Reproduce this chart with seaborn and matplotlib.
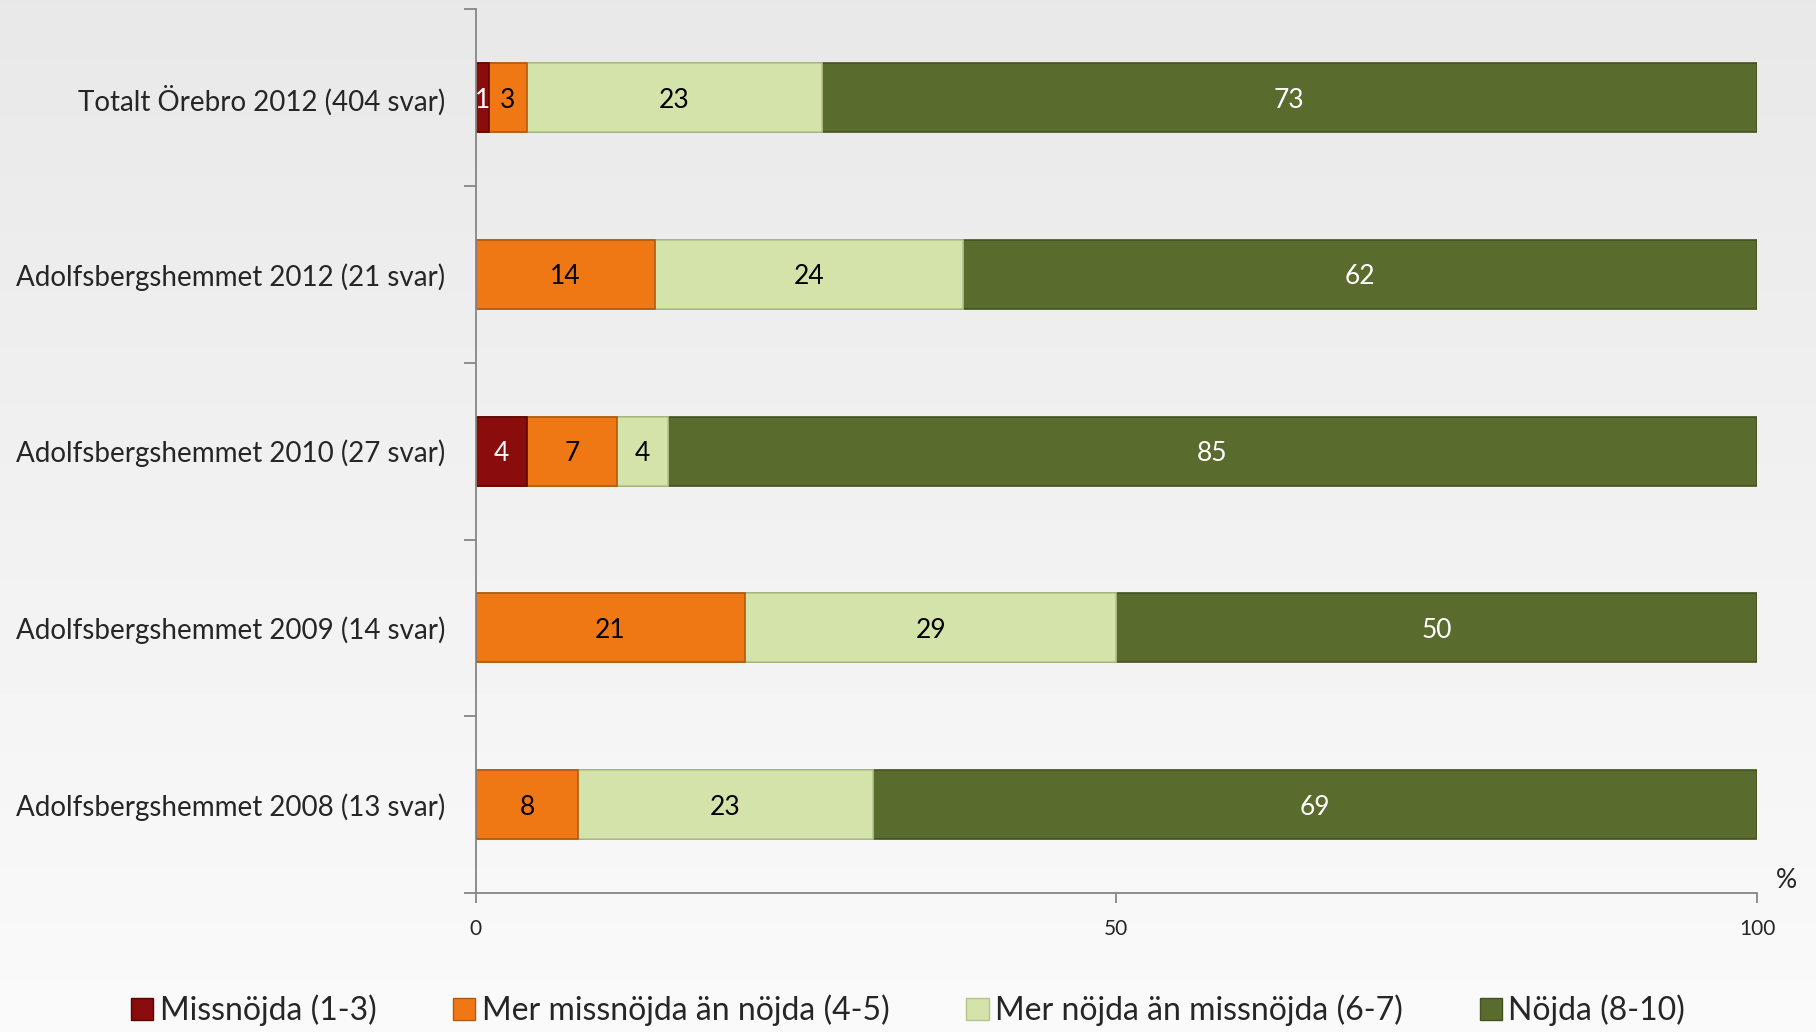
import numpy as np
import pandas as pd
import matplotlib
matplotlib.use("Agg")
import matplotlib.pyplot as plt
from matplotlib.patches import Patch
import seaborn as sns

# data (percent)
groups = [
    "Totalt Örebro 2012 (404 svar)",
    "Adolfsbergshemmet 2012 (21 svar)",
    "Adolfsbergshemmet 2010 (27 svar)",
    "Adolfsbergshemmet 2009 (14 svar)",
    "Adolfsbergshemmet 2008 (13 svar)",
]
missnojda = [1, 0, 4, 0, 0]
mer_missnojda = [3, 14, 7, 21, 8]
mer_nojda = [23, 24, 4, 29, 23]
nojda = [73, 62, 85, 50, 69]

series_names = [
    "Missnöjda (1-3)",
    "Mer missnöjda än nöjda (4-5)",
    "Mer nöjda än missnöjda (6-7)",
    "Nöjda (8-10)",
]
colors = ["#8a0c0c", "#f07814", "#d3e3a9", "#5a6b2e"]
edge_colors = ["#5a0505", "#b3590e", "#b4c48e", "#43521f"]
text_colors = ["white", "black", "black", "white"]

df = pd.DataFrame({
    "grupp": groups,
    series_names[0]: missnojda,
    series_names[1]: mer_missnojda,
    series_names[2]: mer_nojda,
    series_names[3]: nojda,
})
cum = df[series_names].cumsum(axis=1)

sns.set_style("white")
plt.rcParams["font.family"] = ["Lato", "DejaVu Sans"]

fig = plt.figure(figsize=(18.16, 10.32), dpi=100)
# light grey gradient background
grad = np.linspace(0.91, 0.98, 1032)[:, None] * np.ones((1, 1816))
fig.figimage(grad, cmap="gray", vmin=0, vmax=1, zorder=-10)

ax = fig.add_axes([0.262, 0.1347, 0.7055, 0.8563])
ax.set_facecolor("none")

# stacked bars drawn as cumulative layers, back to front
for j in range(len(series_names) - 1, -1, -1):
    name = series_names[j]
    sns.barplot(x=cum[name], y=df["grupp"], orient="h", color=colors[j],
                saturation=1, width=0.39, edgecolor=edge_colors[j],
                linewidth=1.2, ax=ax)

for i in range(len(groups)):
    left = 0
    for j, name in enumerate(series_names):
        v = df[name][i]
        if v > 0:
            ax.text(left + v / 2, i, str(v), ha="center", va="center_baseline",
                    fontsize=19, color=text_colors[j])
        left += v

ax.set_xlim(0, 100)
ax.set_ylim(4.5, -0.5)
ax.set_xlabel("")
ax.set_ylabel("")

ax.set_xticks([0, 50, 100])
ax.set_xticklabels(["0", "50", "100"], fontsize=15)
ax.tick_params(axis="x", bottom=True, length=7, width=1.3, color="#868686", pad=12)

ax.set_yticks(range(len(groups)))
ax.set_yticklabels(groups, fontsize=20)
ax.set_yticks(np.arange(-0.5, len(groups), 1), minor=True)
ax.tick_params(axis="y", which="major", left=True, length=0, pad=22)
ax.tick_params(axis="y", which="minor", left=True, length=9, width=1.3, color="#868686")

for side in ["top", "right"]:
    ax.spines[side].set_visible(False)
for side in ["left", "bottom"]:
    ax.spines[side].set_color("#868686")
    ax.spines[side].set_linewidth(1.3)

ax.text(1.023, 0.0, "%", transform=ax.transAxes, fontsize=19,
        ha="center", va="bottom")

handles = [Patch(facecolor=c, edgecolor=e) for c, e in zip(colors, edge_colors)]
fig.legend(handles, series_names, loc="center", bbox_to_anchor=(0.5, 0.021),
           ncol=4, frameon=False, fontsize=23, handlelength=0.7,
           handleheight=0.7, handletextpad=0.2, columnspacing=2.4)

fig.savefig("out.png", dpi=100)
